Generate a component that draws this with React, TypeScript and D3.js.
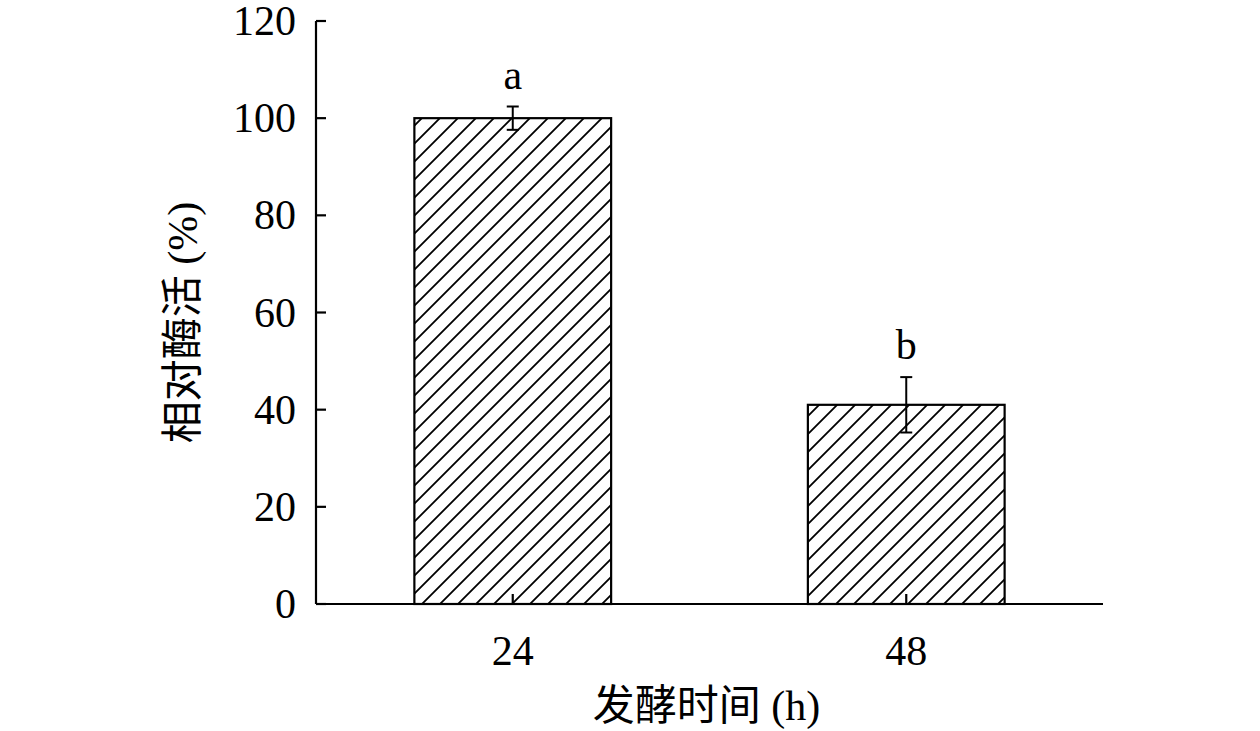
import React from "react";
import * as d3 from "d3";

const categories = ["24", "48"];
const values = [100, 41];
const errors = [2.4, 5.7];
const letters = ["a", "b"];
const yTicks = [0, 20, 40, 60, 80, 100, 120];

export default function App() {
  const W = 1260, H = 731;
  const left = 316, right = 1103, top = 21, bottom = 604;
  const x = d3.scaleBand<string>().domain(categories).range([left, right]).paddingInner(0.5).paddingOuter(0.25);
  const y = d3.scaleLinear().domain([0, 120]).range([bottom, top]);
  const font = "'Liberation Serif', 'Times New Roman', 'Noto Sans CJK SC', serif";
  const sw = 2.2;
  return (
    <svg width={W} height={H} style={{ position: "absolute", left: 0, top: 0, background: "#fff" }}>
      <defs>
        <pattern id="hatch" patternUnits="userSpaceOnUse" width={18} height={18}>
          <path d="M0,18 L18,0 M-4.5,4.5 L4.5,-4.5 M13.5,22.5 L22.5,13.5" stroke="#000" strokeWidth={1.8} />
        </pattern>
      </defs>
      <rect x={0} y={0} width={W} height={H} fill="#fff" />
      {categories.map((c, i) => {
        const bx = x(c)!;
        const bw = x.bandwidth();
        const cx = bx + bw / 2;
        return (
          <g key={c}>
            <rect x={bx} y={y(values[i])} width={bw} height={bottom - y(values[i])} fill="url(#hatch)" stroke="#000" strokeWidth={sw} />
            <line x1={cx} x2={cx} y1={y(values[i] + errors[i])} y2={y(values[i] - errors[i])} stroke="#000" strokeWidth={2} />
            <line x1={cx - 6} x2={cx + 6} y1={y(values[i] + errors[i])} y2={y(values[i] + errors[i])} stroke="#000" strokeWidth={2} />
            <line x1={cx - 6} x2={cx + 6} y1={y(values[i] - errors[i])} y2={y(values[i] - errors[i])} stroke="#000" strokeWidth={2} />
            <line x1={cx} x2={cx} y1={bottom} y2={bottom - 10} stroke="#000" strokeWidth={sw} />
            <text x={cx} y={665} textAnchor="middle" fontFamily={font} fontSize={42}>{c}</text>
            <text x={cx} y={y(values[i] + errors[i]) - 18} textAnchor="middle" fontFamily={font} fontSize={42}>{letters[i]}</text>
          </g>
        );
      })}
      <line x1={left} x2={left} y1={top} y2={bottom} stroke="#000" strokeWidth={sw} />
      <line x1={left} x2={right} y1={bottom} y2={bottom} stroke="#000" strokeWidth={sw} />
      {yTicks.map((t) => (
        <g key={t}>
          <line x1={left} x2={left + 10} y1={y(t)} y2={y(t)} stroke="#000" strokeWidth={sw} />
          <text x={296} y={y(t) + 14} textAnchor="end" fontFamily={font} fontSize={42}>{t}</text>
        </g>
      ))}
      <text transform={`translate(197,${(top + bottom) / 2 + 10}) rotate(-90)`} textAnchor="middle" fontFamily={font} fontSize={42}>相对酶活 (%)</text>
      <text x={(left + right) / 2 - 3} y={720} textAnchor="middle" fontFamily={font} fontSize={42}>发酵时间 (h)</text>
    </svg>
  );
}
